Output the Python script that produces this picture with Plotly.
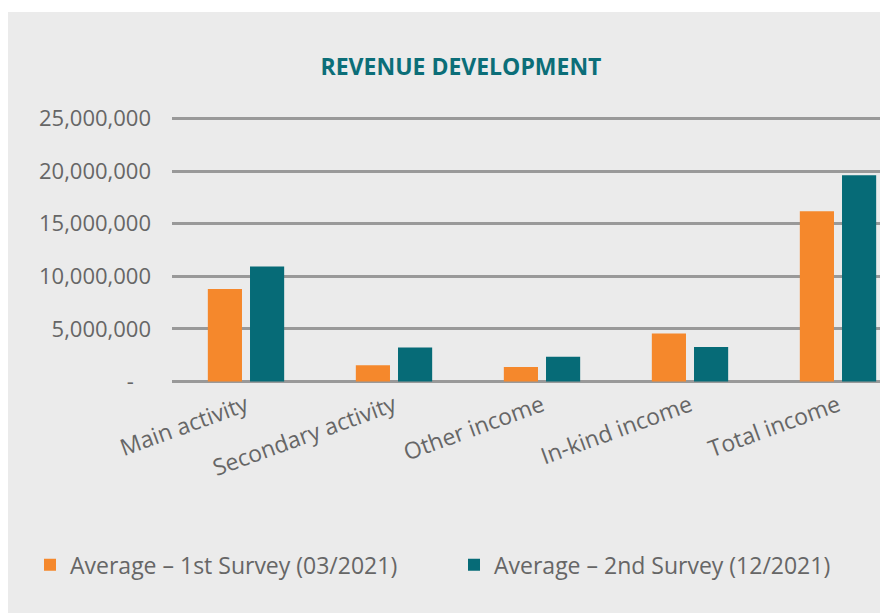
import plotly.graph_objects as go

categories = ["Main activity", "Secondary activity", "Other income", "In-kind income", "Total income"]
series_names = ["Average – 1st Survey (03/2021)", "Average – 2nd Survey (12/2021)"]
survey1 = [8790000, 1540000, 1380000, 4570000, 16190000]
survey2 = [10930000, 3240000, 2360000, 3270000, 19600000]
tick_vals = [0, 5000000, 10000000, 15000000, 20000000, 25000000]
tick_text = ["-\u00a0\u00a0\u00a0", "5,000,000", "10,000,000", "15,000,000", "20,000,000", "25,000,000"]

ORANGE = "#F5882C"
TEAL = "#066B77"
BG = "#EBEBEB"
TXT = "#666666"
GRID = "#999999"
FONT = "Open Sans"

# page body has an 8px margin; build figure in page pixels minus offset
OFF = 8
W, H = 888 - OFF, 613 - OFF
# plot area in page px: x 172..888, y 118..382
EPS_PX = 1.5
top_px, bot_px = 118 - EPS_PX, 382 + EPS_PX
L = 172 - OFF
R = 0
T = top_px - OFF
B = H - (bot_px - OFF)
pw = W - L - R
ph = H - T - B
per_px = 25000000 / (382 - 118)
ymin = -EPS_PX * per_px
ymax = 25000000 + EPS_PX * per_px


def px_x(p):  # page px -> paper x
    return (p - OFF - L) / pw


def px_y(p):  # page px -> paper y
    return (H - B - (p - OFF)) / ph


fig = go.Figure()
fig.add_trace(go.Bar(x=categories, y=survey1, name=series_names[0], marker=dict(color=ORANGE, line=dict(width=0))))
fig.add_trace(go.Bar(x=categories, y=survey2, name=series_names[1], marker=dict(color=TEAL, line=dict(width=0))))

fig.add_shape(type="rect", xref="paper", yref="paper",
              x0=px_x(7), x1=px_x(920), y0=px_y(640), y1=px_y(11),
              fillcolor=BG, line=dict(width=0), layer="below")

fig.update_layout(
    width=W, height=H,
    margin=dict(l=L, r=R, t=T, b=B, pad=0),
    paper_bgcolor="white",
    plot_bgcolor="rgba(0,0,0,0)",
    barmode="group",
    bargap=0.43,
    bargroupgap=0.19,
    font=dict(family=FONT, size=22, color=TXT),
    title=dict(text="<b>REVENUE DEVELOPMENT</b>", xref="container", yref="container",
               x=(461 - OFF) / W, y=1 - (67 - OFF) / H, xanchor="center", yanchor="middle",
               font=dict(family=FONT, size=23, color="#0B6E78")),
    showlegend=True,
    legend=dict(orientation="h", x=px_x(30), y=px_y(566), xanchor="left", yanchor="middle",
                bgcolor="rgba(0,0,0,0)", font=dict(family=FONT, size=23, color=TXT),
                entrywidth=379, entrywidthmode="pixels", traceorder="normal"),
)

fig.update_xaxes(
    range=[-0.5, -0.5 + pw / 148.0],
    showgrid=False, zeroline=False, showline=False,
    tickangle=-20, ticks="", ticklabelstandoff=4,
    tickfont=dict(family=FONT, size=23, color=TXT),
)
fig.update_yaxes(
    range=[ymin, ymax],
    tickvals=tick_vals, ticktext=tick_text,
    showgrid=True, gridcolor=GRID, gridwidth=2.5,
    zeroline=False, showline=False, ticks="",
    ticklabelstandoff=20,
    tickfont=dict(family=FONT, size=22, color=TXT),
)

fig.write_html("out.html")
